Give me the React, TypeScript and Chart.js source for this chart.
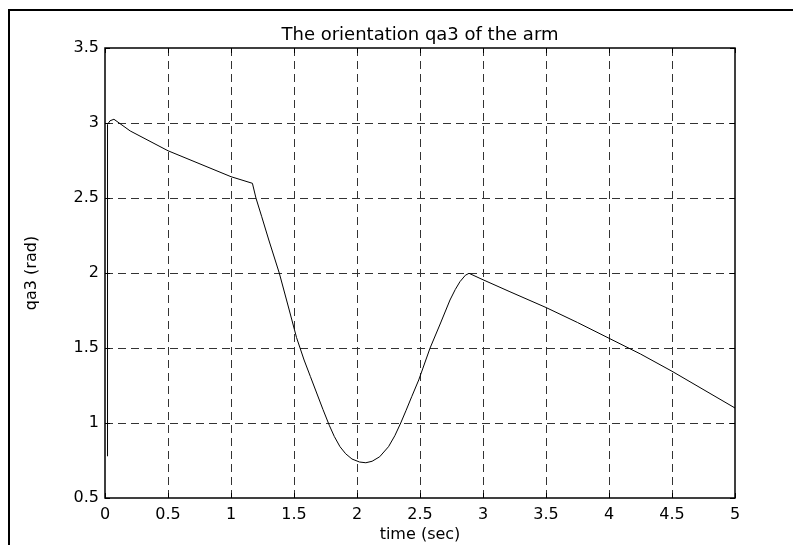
import React, { useEffect, useRef } from "react";
import { Chart, registerables } from "chart.js";

Chart.register(...registerables);

const timeSec = [
  0.016, 0.02, 0.04, 0.071, 0.2, 0.5, 1.0, 1.17, 1.198, 1.244, 1.3, 1.383, 1.46, 1.52, 1.58,
  1.63, 1.68, 1.73, 1.78, 1.82, 1.865, 1.91, 1.96, 2.02, 2.07, 2.12, 2.18, 2.25, 2.3, 2.347, 2.39,
  2.434, 2.49, 2.58, 2.66, 2.738, 2.78, 2.817, 2.86, 2.889, 3.0, 3.214, 3.5, 3.75, 4.0, 4.25,
  4.5, 5.0,
];
const qa3Rad = [
  0.78, 2.99, 3.015, 3.025, 2.947, 2.815, 2.642, 2.598, 2.5, 2.375, 2.22, 2.0, 1.76, 1.57, 1.42,
  1.31, 1.2, 1.09, 0.985, 0.91, 0.842, 0.795, 0.76, 0.74, 0.735, 0.745, 0.775, 0.842, 0.915, 1.0, 1.085,
  1.175, 1.287, 1.5, 1.66, 1.82, 1.89, 1.942, 1.985, 1.998, 1.955, 1.875, 1.77, 1.67, 1.565, 1.46,
  1.345, 1.1,
];
const xTicks = [0, 0.5, 1, 1.5, 2, 2.5, 3, 3.5, 4, 4.5, 5];
const yTicks = [0.5, 1, 1.5, 2, 2.5, 3, 3.5];

const TITLE = "The orientation qa3 of the arm";
const X_LABEL = "time (sec)";
const Y_LABEL = "qa3 (rad)";
const FONT = "'DejaVu Sans', Verdana, sans-serif";

const matlabPlugin = {
  id: "matlabDecor",
  beforeDatasetsDraw(chart: any) {
    const { ctx, chartArea: a, scales } = chart;
    const xs = scales.x;
    const ys = scales.y;
    ctx.save();
    ctx.strokeStyle = "#333";
    ctx.lineWidth = 1;
    ctx.setLineDash([8, 5]);
    xTicks.forEach((t) => {
      const px = Math.round(xs.getPixelForValue(t)) + 0.5;
      if (px <= a.left + 1 || px >= a.right - 1) return;
      ctx.beginPath();
      ctx.moveTo(px, a.top);
      ctx.lineTo(px, a.bottom);
      ctx.stroke();
    });
    yTicks.forEach((t) => {
      const py = Math.round(ys.getPixelForValue(t)) + 0.5;
      if (py <= a.top + 1 || py >= a.bottom - 1) return;
      ctx.beginPath();
      ctx.moveTo(a.left, py);
      ctx.lineTo(a.right, py);
      ctx.stroke();
    });
    ctx.restore();
  },
  afterDatasetsDraw(chart: any) {
    const { ctx, chartArea: a, scales } = chart;
    const xs = scales.x;
    const ys = scales.y;
    ctx.save();
    ctx.setLineDash([]);
    ctx.strokeStyle = "#000";
    ctx.lineWidth = 1.5;
    ctx.strokeRect(a.left, a.top, a.right - a.left, a.bottom - a.top);
    ctx.lineWidth = 1;
    const tl = 5;
    xTicks.forEach((t) => {
      const px = Math.round(xs.getPixelForValue(t)) + 0.5;
      ctx.beginPath();
      ctx.moveTo(px, a.bottom);
      ctx.lineTo(px, a.bottom - tl);
      ctx.moveTo(px, a.top);
      ctx.lineTo(px, a.top + tl);
      ctx.stroke();
    });
    yTicks.forEach((t) => {
      const py = Math.round(ys.getPixelForValue(t)) + 0.5;
      ctx.beginPath();
      ctx.moveTo(a.left, py);
      ctx.lineTo(a.left + tl, py);
      ctx.moveTo(a.right, py);
      ctx.lineTo(a.right - tl, py);
      ctx.stroke();
    });
    ctx.fillStyle = "#000";
    ctx.textAlign = "center";
    ctx.textBaseline = "middle";
    ctx.font = `18px ${FONT}`;
    ctx.fillText(TITLE, (a.left + a.right) / 2, 35);
    ctx.font = `16px ${FONT}`;
    ctx.fillText(X_LABEL, (a.left + a.right) / 2, 535);
    ctx.translate(32, (a.top + a.bottom) / 2);
    ctx.rotate(-Math.PI / 2);
    ctx.fillText(Y_LABEL, 0, 0);
    ctx.restore();
  },
};

export default function App() {
  const ref = useRef<HTMLCanvasElement | null>(null);
  useEffect(() => {
    if (!ref.current) return;
    const chart = new Chart(ref.current, {
      type: "scatter",
      data: {
        datasets: [
          {
            data: timeSec.map((t, i) => ({ x: t, y: qa3Rad[i] })),
            showLine: true,
            borderColor: "#000",
            borderWidth: 1,
            pointRadius: 0,
            tension: 0,
          },
        ],
      },
      options: {
        animation: false,
        responsive: false,
        devicePixelRatio: 1,
        layout: { padding: { left: 0, right: 58, top: 48, bottom: 0 } },
        plugins: { legend: { display: false }, tooltip: { enabled: false }, title: { display: false } },
        scales: {
          x: {
            type: "linear",
            min: 0,
            max: 5,
            afterFit: (s: any) => {
              s.height = 47;
            },
            afterBuildTicks: (s: any) => {
              s.ticks = xTicks.map((v) => ({ value: v }));
            },
            grid: { display: false, drawTicks: false },
            border: { display: false },
            ticks: {
              padding: 7,
              color: "#000",
              font: { family: FONT, size: 16 },
              maxRotation: 0,
              autoSkip: false,
              callback: (v: any) => String(v),
            },
          },
          y: {
            type: "linear",
            min: 0.5,
            max: 3.5,
            afterFit: (s: any) => {
              s.width = 105;
            },
            afterBuildTicks: (s: any) => {
              s.ticks = yTicks.map((v) => ({ value: v }));
            },
            grid: { display: false, drawTicks: false },
            border: { display: false },
            ticks: {
              padding: 6,
              color: "#000",
              font: { family: FONT, size: 16 },
              autoSkip: false,
              callback: (v: any) => String(v),
            },
          },
        },
      },
      plugins: [matlabPlugin],
    });
    return () => chart.destroy();
  }, []);
  return (
    <div style={{ position: "absolute", left: 0, top: 0, width: 793, height: 545, background: "#fff", overflow: "hidden" }}>
      <canvas ref={ref} width={793} height={545} style={{ position: "absolute", left: 0, top: 0, width: 793, height: 545 }} />
      <div
        style={{
          position: "absolute",
          left: 8,
          top: 9,
          width: 800,
          height: 560,
          borderLeft: "2px solid #000",
          borderTop: "2px solid #000",
          pointerEvents: "none",
        }}
      />
    </div>
  );
}
